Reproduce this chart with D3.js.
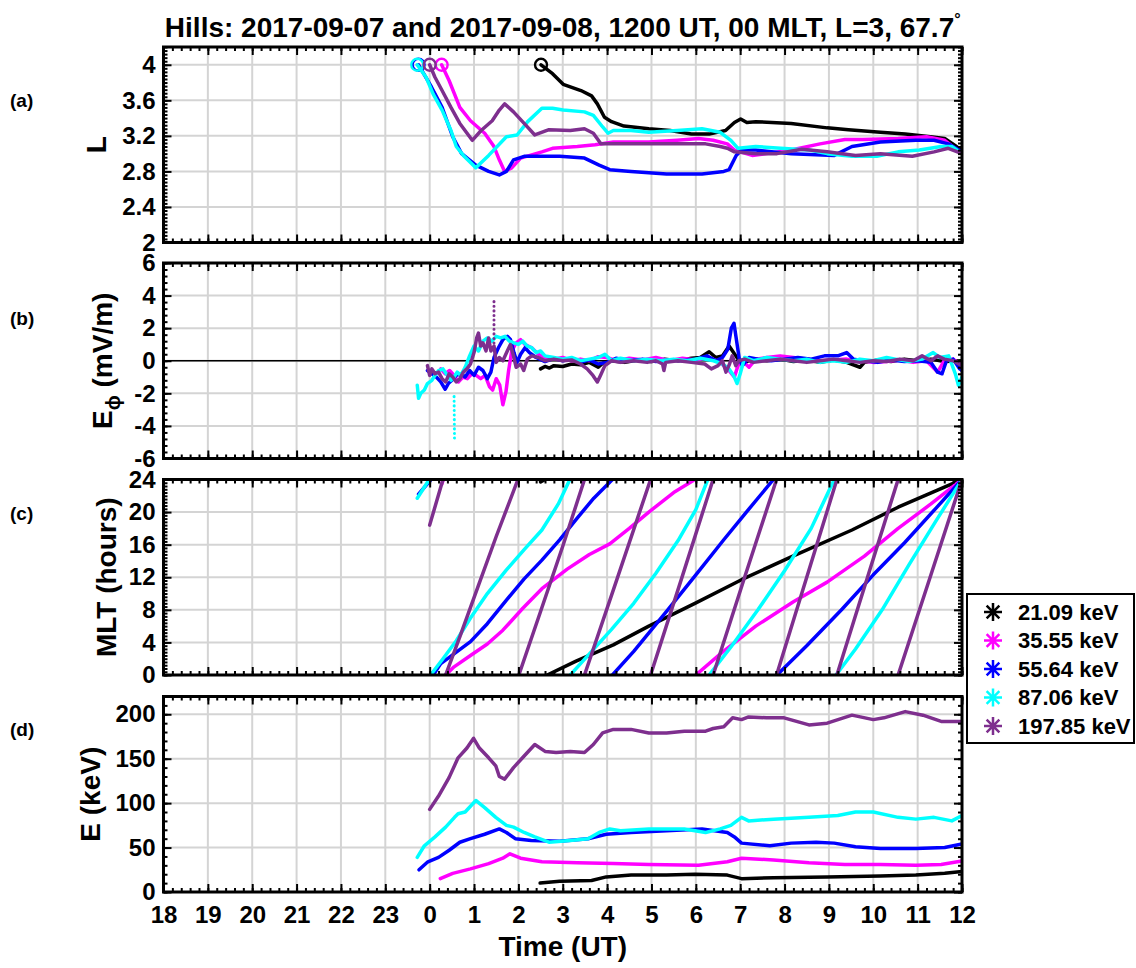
<!DOCTYPE html>
<meta charset="utf-8">
<html>

<head>
    <title>Hills drift paths</title>
    <style>
        body { margin: 0; background: #fff; }
        svg text { font-family: "Liberation Sans", Arial, sans-serif; font-weight: bold; fill: #000; }
    </style>
</head>

<body>
    <div id="container"></div>

    <script src="https://d3js.org/d3.v7.min.js"></script>

    <script>
        // time axis: hours relative to 2017-09-08 00 UT (negative = 2017-09-07)
        const hourTicks = d3.range(-6, 13);
        const hourLabels = ["18", "19", "20", "21", "22", "23", "0", "1", "2", "3", "4", "5", "6", "7", "8", "9", "10", "11", "12"];

        const energyLabels = ["21.09 keV", "35.55 keV", "55.64 keV", "87.06 keV", "197.85 keV"];
        const seriesColors = ["#000000", "#ff00ff", "#0000ff", "#00ffff", "#7e2f8e"];

        const lTicks = [2, 2.4, 2.8, 3.2, 3.6, 4];
        const ePhiTicks = [-6, -4, -2, 0, 2, 4, 6];
        const mltTicks = [0, 4, 8, 12, 16, 20, 24];
        const keVTicks = [0, 50, 100, 150, 200];

        // (a) L shell
        const lBlack = [[2.51, 4.0], [2.77, 3.9], [3.01, 3.78], [3.41, 3.71], [3.65, 3.65], [3.78, 3.56], [3.94, 3.41], [4.1, 3.36], [4.38, 3.31], [4.94, 3.28], [5.42, 3.26], [5.9, 3.22], [6.3, 3.22], [6.67, 3.26], [6.87, 3.35], [7.01, 3.39], [7.15, 3.35], [7.35, 3.36], [8.15, 3.34], [8.96, 3.29], [9.44, 3.27], [10.16, 3.24], [10.72, 3.22], [11.29, 3.19], [11.61, 3.17], [11.85, 3.09], [12, 3.03]];
        const lMagenta = [[0.27, 4.0], [0.44, 3.82], [0.68, 3.52], [0.92, 3.37], [1.24, 3.23], [1.45, 3.08], [1.57, 2.93], [1.69, 2.8], [1.85, 2.84], [2.05, 2.95], [2.53, 3.02], [2.77, 3.06], [3.33, 3.08], [3.73, 3.1], [4.14, 3.13], [4.94, 3.13], [5.58, 3.15], [6.06, 3.17], [6.39, 3.15], [6.71, 3.11], [6.87, 3.04], [7.27, 2.98], [7.59, 3.0], [8.15, 3.04], [8.8, 3.11], [9.36, 3.16], [9.76, 3.16], [10.56, 3.17], [11.2, 3.19], [11.61, 3.15], [12, 3.0]];
        const lBlue = [[-0.25, 4.0], [0.04, 3.75], [0.28, 3.52], [0.52, 3.19], [0.72, 3.0], [1.04, 2.87], [1.33, 2.8], [1.57, 2.76], [1.73, 2.8], [1.89, 2.93], [2.13, 2.97], [2.93, 2.97], [3.49, 2.95], [3.82, 2.87], [4.06, 2.82], [4.54, 2.8], [5.34, 2.77], [6.14, 2.77], [6.63, 2.8], [6.75, 2.82], [6.91, 2.98], [7.03, 3.04], [7.35, 3.04], [8.15, 3.0], [9.12, 2.98], [9.52, 3.08], [10.16, 3.13], [10.96, 3.15], [11.37, 3.15], [11.69, 3.11], [12, 3.02]];
        const lCyan = [[-0.28, 4.0], [-0.08, 3.86], [0.08, 3.67], [0.28, 3.49], [0.48, 3.26], [0.6, 3.08], [0.76, 2.98], [1.04, 2.84], [1.33, 2.98], [1.73, 3.19], [1.97, 3.21], [2.21, 3.36], [2.53, 3.51], [2.77, 3.51], [3.01, 3.49], [3.49, 3.47], [3.69, 3.43], [3.9, 3.3], [4.02, 3.23], [4.14, 3.26], [4.54, 3.26], [4.94, 3.24], [5.58, 3.26], [6.14, 3.28], [6.55, 3.24], [6.79, 3.15], [6.95, 3.06], [7.35, 3.08], [7.91, 3.06], [8.55, 3.04], [8.96, 3.0], [9.52, 2.97], [10.08, 2.97], [10.56, 3.02], [11.04, 3.04], [11.53, 3.08], [11.77, 3.08], [12, 3.0]];
        const lPurple = [[0, 4.0], [0.12, 3.86], [0.28, 3.71], [0.48, 3.52], [0.68, 3.34], [0.96, 3.15], [1.16, 3.26], [1.41, 3.37], [1.57, 3.49], [1.69, 3.56], [1.89, 3.47], [2.13, 3.34], [2.37, 3.21], [2.69, 3.27], [3.17, 3.26], [3.49, 3.28], [3.69, 3.23], [3.86, 3.11], [4.46, 3.11], [5.42, 3.11], [6.22, 3.11], [6.55, 3.08], [6.71, 3.06], [6.87, 3.02], [7.35, 3.0], [7.83, 3.0], [8.39, 3.05], [8.96, 3.02], [9.6, 2.98], [10.16, 3.0], [10.88, 2.97], [11.37, 3.02], [11.69, 3.06], [12, 3.0]];

        // (b) E_phi (mV/m)
        const ePhiBlack = [[2.5, -0.5], [2.6, -0.35], [2.7, -0.45], [2.8, -0.3], [3.0, -0.35], [3.2, -0.2], [3.4, -0.25], [3.6, -0.1], [3.8, -0.4], [3.9, -0.15], [4.1, 0.0], [4.4, -0.1], [4.7, 0.05], [5.0, -0.05], [5.3, 0.1], [5.6, 0.0], [5.9, 0.15], [6.1, 0.2], [6.3, 0.55], [6.45, 0.2], [6.6, 0.3], [6.75, 0.9], [6.85, 0.5], [6.95, 0.1], [7.1, -0.1], [7.3, 0.1], [7.6, 0.0], [7.9, 0.1], [8.2, -0.05], [8.5, 0.05], [8.8, -0.1], [9.1, 0.05], [9.4, -0.1], [9.7, -0.4], [9.8, -0.1], [10.1, 0.05], [10.4, -0.05], [10.7, 0.1], [11.0, 0.0], [11.3, 0.1], [11.6, -0.05], [12, 0.0]];
        const ePhiMagenta = [[0.25, -0.5], [0.35, -0.8], [0.45, -0.6], [0.55, -0.9], [0.65, -1.3], [0.75, -1.0], [0.85, -1.1], [0.95, -0.8], [1.05, -0.9], [1.15, -1.1], [1.25, -0.9], [1.35, -1.6], [1.42, -1.8], [1.5, -1.1], [1.58, -1.5], [1.65, -2.7], [1.72, -1.9], [1.78, -0.6], [1.85, 0.6], [1.95, 1.1], [2.05, 1.3], [2.15, 1.0], [2.3, 0.8], [2.45, 0.4], [2.6, 0.2], [2.8, 0.1], [3.0, 0.2], [3.2, 0.0], [3.4, 0.1], [3.6, 0.0], [3.8, 0.25], [4.0, 0.2], [4.2, 0.0], [4.5, 0.15], [4.8, 0.05], [5.1, 0.2], [5.4, 0.0], [5.7, 0.15], [6.0, 0.05], [6.3, 0.2], [6.55, -0.1], [6.75, -0.6], [6.87, -1.0], [6.95, -0.3], [7.05, 0.0], [7.2, -0.4], [7.35, 0.1], [7.6, 0.2], [7.9, 0.3], [8.2, 0.2], [8.5, 0.1], [8.8, 0.0], [9.1, 0.05], [9.4, 0.1], [9.7, 0.0], [10.0, -0.1], [10.3, -0.05], [10.6, 0.05], [10.9, -0.1], [11.2, 0.0], [11.45, -0.7], [11.6, 0.0], [11.8, 0.1], [12, -0.3]];
        const ePhiBlue = [[-0.05, -0.6], [0.05, -0.8], [0.15, -1.0], [0.25, -1.3], [0.35, -1.75], [0.42, -1.4], [0.5, -1.2], [0.6, -0.9], [0.7, -0.8], [0.8, -1.0], [0.9, -0.6], [1.0, -0.9], [1.1, -0.4], [1.2, -0.6], [1.3, -1.1], [1.38, -0.7], [1.45, 0.2], [1.55, 0.8], [1.65, 1.3], [1.75, 1.5], [1.82, 1.3], [1.9, 0.5], [1.97, -0.1], [2.05, 0.4], [2.15, 0.8], [2.25, 0.5], [2.4, 0.2], [2.6, -0.05], [2.8, 0.15], [3.0, 0.0], [3.2, 0.1], [3.4, -0.1], [3.6, 0.05], [3.8, -0.2], [4.0, -0.1], [4.2, 0.15], [4.5, 0.0], [4.8, 0.1], [5.1, -0.05], [5.4, 0.05], [5.7, 0.0], [6.0, 0.1], [6.25, 0.3], [6.45, 0.0], [6.6, 0.2], [6.72, 0.7], [6.8, 2.0], [6.86, 2.3], [6.92, 1.2], [6.98, 0.1], [7.05, -0.3], [7.2, 0.2], [7.4, 0.1], [7.7, 0.0], [8.0, 0.1], [8.3, 0.2], [8.6, 0.1], [8.9, 0.3], [9.2, 0.3], [9.4, 0.5], [9.55, 0.1], [9.8, 0.0], [10.1, -0.1], [10.4, 0.05], [10.7, -0.05], [11.0, 0.0], [11.3, -0.1], [11.45, -0.7], [11.55, -0.8], [11.65, 0.0], [11.8, 0.1], [11.95, -0.5], [12, -0.6]];
        const ePhiCyan = [[-0.28, -1.5], [-0.25, -2.3], [-0.2, -2.0], [-0.12, -1.8], [-0.05, -1.4], [0.05, -1.2], [0.12, -0.9], [0.2, -0.6], [0.3, -0.5], [0.4, -0.9], [0.48, -1.2], [0.55, -1.0], [0.62, -0.7], [0.7, -0.9], [0.8, -0.4], [0.9, 0.3], [1.0, 0.9], [1.1, 0.6], [1.2, 1.2], [1.3, 1.4], [1.4, 1.2], [1.5, 1.5], [1.6, 1.4], [1.7, 1.5], [1.8, 1.2], [1.9, 1.1], [2.0, 1.0], [2.1, 1.2], [2.2, 0.9], [2.3, 0.8], [2.4, 0.5], [2.5, 0.6], [2.6, 0.3], [2.8, 0.2], [3.0, 0.1], [3.2, 0.2], [3.4, 0.0], [3.6, 0.1], [3.8, 0.2], [3.95, 0.4], [4.1, 0.0], [4.3, 0.15], [4.6, 0.0], [4.9, 0.1], [5.2, 0.0], [5.5, 0.1], [5.8, 0.0], [6.1, 0.15], [6.4, 0.0], [6.6, -0.2], [6.75, -0.5], [6.85, -0.9], [6.93, -1.4], [7.0, -0.8], [7.1, 0.2], [7.3, 0.0], [7.6, 0.2], [7.9, 0.1], [8.2, 0.0], [8.5, 0.1], [8.8, -0.1], [9.1, 0.0], [9.4, -0.1], [9.7, 0.1], [10.0, 0.0], [10.3, 0.2], [10.5, 0.1], [10.8, -0.05], [11.1, 0.1], [11.35, 0.5], [11.5, 0.2], [11.7, 0.3], [11.85, -0.8], [11.92, -1.5], [12, -1.0]];
        const ePhiPurple = [[-0.05, -0.3], [0.0, -0.9], [0.05, -0.5], [0.12, -0.8], [0.2, -0.7], [0.28, -1.1], [0.36, -1.3], [0.44, -0.8], [0.52, -1.0], [0.6, -1.3], [0.68, -1.1], [0.76, -0.7], [0.84, -0.5], [0.92, -0.2], [1.0, 0.5], [1.06, 1.4], [1.1, 1.7], [1.15, 0.9], [1.2, 1.1], [1.27, 0.6], [1.33, 1.4], [1.38, 0.6], [1.45, 0.9], [1.5, -0.1], [1.57, 0.2], [1.65, 0.0], [1.75, 0.6], [1.82, 1.0], [1.88, 0.4], [1.95, -0.4], [2.05, -0.2], [2.12, -0.6], [2.2, 0.1], [2.3, 0.3], [2.45, 0.2], [2.6, 0.0], [2.8, 0.1], [3.0, 0.0], [3.2, 0.05], [3.4, -0.2], [3.55, -0.5], [3.68, -0.9], [3.78, -1.3], [3.85, -0.9], [3.95, -0.3], [4.1, 0.0], [4.3, -0.1], [4.6, 0.0], [4.9, -0.1], [5.1, 0.0], [5.25, -0.2], [5.28, -0.6], [5.32, -0.1], [5.6, 0.0], [5.9, -0.1], [6.2, -0.2], [6.35, -0.5], [6.5, -0.3], [6.6, 0.0], [6.68, -0.7], [6.76, -0.2], [6.82, 0.3], [6.9, -0.3], [6.97, 0.0], [7.1, 0.1], [7.3, -0.1], [7.6, 0.0], [7.9, 0.1], [8.2, 0.0], [8.5, -0.1], [8.8, 0.0], [9.1, 0.1], [9.4, 0.0], [9.7, -0.1], [10.0, 0.0], [10.3, -0.05], [10.6, 0.1], [10.9, 0.0], [11.1, 0.3], [11.3, 0.0], [11.45, 0.3], [11.6, 0.1], [11.8, 0.0], [12, -0.3]];
        // sparse dotted excursions
        const ePhiCyanSpike = [[0.55, -2.2], [0.56, -4.9]];
        const ePhiPurpleSpike = [[1.45, 0.8], [1.45, 3.7]];

        // (c) MLT, null marks a wrap from 24 back to 0
        const mltBlack = [[2.5, 23.7], [2.6, 24], null, [2.65, 0], [3.3, 1.7], [4.14, 3.7], [4.94, 6.0], [5.98, 8.8], [7.03, 11.7], [8.15, 14.5], [9.52, 17.8], [10.56, 20.6], [12, 24]];
        const mltMagenta = [[0.27, 23.4], [0.31, 24], null, [0.36, 0], [0.55, 1.0], [0.92, 2.4], [1.3, 3.8], [1.65, 5.5], [2.1, 8.2], [2.53, 10.6], [3.1, 13.0], [3.6, 14.8], [4.06, 16.1], [4.5, 18.0], [4.94, 20.0], [5.5, 22.4], [5.98, 24], null, [6.0, 0], [6.6, 2.8], [7.35, 6.0], [8.2, 9.0], [8.96, 11.4], [9.8, 14.6], [10.56, 18.0], [11.3, 21.0], [12, 24]];
        const mltBlue = [[-0.25, 22.2], [0.03, 24], null, [0.08, 0], [0.25, 1.4], [0.45, 2.2], [0.92, 4.1], [1.3, 6.3], [1.73, 9.2], [2.13, 11.8], [2.53, 14.1], [2.93, 16.6], [3.33, 19.3], [3.7, 21.7], [4.12, 24], null, [4.12, 0], [4.6, 2.9], [5.34, 7.8], [6.0, 12.3], [6.63, 16.6], [7.2, 20.4], [7.75, 24], null, [7.83, 0], [8.5, 3.6], [9.3, 8.1], [10.0, 12.3], [10.7, 16.2], [11.4, 20.4], [12, 24]];
        const mltCyan = [[-0.28, 21.7], [-0.01, 24], null, [0.02, 0], [0.3, 2.0], [0.6, 4.2], [0.92, 7.0], [1.3, 10.0], [1.73, 12.9], [2.13, 15.4], [2.53, 17.8], [2.9, 21.0], [3.16, 24], null, [3.17, 0], [3.6, 2.6], [4.1, 5.6], [4.6, 8.8], [5.1, 12.5], [5.6, 16.5], [6.0, 20.3], [6.27, 24], null, [6.3, 0], [6.8, 3.5], [7.4, 8.0], [8.0, 12.8], [8.6, 18.0], [9.12, 24], null, [9.16, 0], [9.6, 3.2], [10.2, 8.0], [10.8, 13.5], [11.4, 18.8], [12, 24]];
        const mltPurple = [[0, 18.4], [0.3, 24], null, [0.36, 0], [0.7, 5.0], [1.1, 11.0], [1.5, 17.0], [1.99, 24], null, [2.01, 0], [2.5, 7.8], [3.0, 15.8], [3.49, 24], null, [3.49, 0], [4.2, 11.4], [4.98, 24], null, [4.98, 0], [5.7, 12.2], [6.39, 24], null, [6.39, 0], [7.1, 12.0], [7.82, 24], null, [7.82, 0], [8.5, 12.0], [9.18, 24], null, [9.18, 0], [9.87, 12.0], [10.56, 24], null, [10.56, 0], [11.3, 12.3], [12, 24]];

        // (d) energy (keV)
        const keVBlack = [[2.49, 10], [2.93, 12], [3.65, 13], [3.98, 17], [4.54, 19], [5.34, 19], [5.98, 20], [6.71, 19], [7.03, 15], [7.75, 16], [8.96, 17], [10.16, 18], [10.96, 19], [11.61, 21], [12, 23]];
        const keVMagenta = [[0.24, 15], [0.52, 21], [0.92, 26], [1.33, 32], [1.65, 38], [1.81, 43], [2.05, 38], [2.53, 34], [3.33, 33], [4.14, 32], [4.94, 31], [6.06, 30], [6.71, 34], [7.03, 38], [7.75, 36], [8.55, 33], [9.36, 31], [10.16, 31], [10.96, 30], [11.53, 31], [12, 35]];
        const keVBlue = [[-0.24, 25], [-0.04, 34], [0.2, 39], [0.44, 47], [0.68, 56], [0.92, 60], [1.24, 65], [1.57, 71], [1.73, 67], [1.93, 60], [2.29, 58], [2.93, 57], [3.57, 60], [3.98, 65], [4.54, 67], [5.34, 69], [6.14, 71], [6.71, 67], [6.87, 62], [7.03, 55], [7.67, 52], [8.15, 55], [8.71, 56], [9.12, 55], [9.6, 51], [10.16, 49], [10.96, 49], [11.61, 50], [12, 54]];
        const keVCyan = [[-0.28, 39], [-0.12, 52], [0.12, 62], [0.36, 73], [0.56, 84], [0.64, 88], [0.8, 90], [1.04, 103], [1.24, 95], [1.49, 84], [1.73, 75], [1.89, 73], [2.13, 67], [2.37, 62], [2.69, 56], [3.17, 58], [3.57, 60], [3.82, 67], [4.06, 71], [4.3, 69], [4.94, 71], [5.74, 71], [6.22, 67], [6.55, 71], [6.79, 75], [7.03, 84], [7.19, 80], [7.75, 82], [8.55, 84], [9.2, 86], [9.6, 90], [10.0, 90], [10.56, 84], [10.96, 82], [11.37, 84], [11.77, 80], [12, 86]];
        const keVPurple = [[0, 93], [0.2, 108], [0.44, 129], [0.64, 151], [0.84, 162], [0.99, 173], [1.12, 162], [1.33, 151], [1.49, 142], [1.57, 130], [1.69, 127], [1.89, 140], [2.13, 153], [2.37, 166], [2.61, 158], [2.85, 157], [3.17, 158], [3.49, 157], [3.69, 166], [3.9, 179], [4.14, 183], [4.54, 183], [4.94, 179], [5.34, 179], [5.74, 181], [6.22, 181], [6.39, 184], [6.63, 186], [6.83, 196], [7.03, 194], [7.19, 197], [7.59, 196], [7.99, 196], [8.55, 188], [8.96, 190], [9.52, 199], [10.0, 194], [10.24, 196], [10.72, 203], [11.12, 199], [11.53, 192], [12, 192]];

        // ---- layout ----
        const width = 1136, height = 968;
        const plotLeft = 163.5, plotRight = 962, panelH = 195.5;
        const gridColor = "#d4d4d4";
        const tickFont = 24;

        const x = d3.scaleLinear().domain([-6, 12]).range([plotLeft, plotRight]);

        const panels = [
            { id: "a", top: 47, domain: [2, 4.2], ticks: lTicks, minor: d3.range(2, 4.2001, 0.04), series: [lBlack, lMagenta, lBlue, lCyan, lPurple], labelX: 106, tag: "(a)", tagY: 107 },
            { id: "b", top: 263, domain: [-6, 6], ticks: ePhiTicks, minor: d3.range(-6, 6.001, 0.4), series: [ePhiBlack, ePhiMagenta, ePhiBlue, ePhiCyan, ePhiPurple], labelX: 112, tag: "(b)", tagY: 325 },
            { id: "c", top: 479.5, domain: [0, 24], ticks: mltTicks, minor: d3.range(0, 24.001, 0.4), series: [mltBlack, mltMagenta, mltBlue, mltCyan, mltPurple], labelX: 116, tag: "(c)", tagY: 520 },
            { id: "d", top: 696.5, domain: [0, 220], ticks: keVTicks, minor: d3.range(0, 220.001, 10), series: [keVBlack, keVMagenta, keVBlue, keVCyan, keVPurple], labelX: 100, tag: "(d)", tagY: 736 }
        ];

        const svg = d3.select("#container").append("svg")
            .attr("width", width)
            .attr("height", height)
            .style("background", "#fff");

        function styleAxis(sel, fontSize) {
            sel.select(".domain").remove();
            sel.attr("font-family", null).attr("font-size", null);
            sel.selectAll(".tick line").attr("stroke", "#000").attr("stroke-width", 2);
            sel.selectAll(".tick text").style("font-size", fontSize + "px").attr("fill", "#000");
        }

        panels.forEach((p, pi) => {
            const bottom = p.top + panelH;
            const y = d3.scaleLinear().domain(p.domain).range([bottom, p.top]);
            const g = svg.append("g").attr("class", "panel-" + p.id);

            g.append("clipPath").attr("id", "clip-" + p.id)
                .append("rect")
                .attr("x", plotLeft).attr("y", p.top)
                .attr("width", plotRight - plotLeft).attr("height", panelH);

            // grid lines
            g.append("g").selectAll("line").data(hourTicks).join("line")
                .attr("x1", d => x(d)).attr("x2", d => x(d))
                .attr("y1", p.top).attr("y2", bottom)
                .attr("stroke", gridColor).attr("stroke-width", 2);
            g.append("g").selectAll("line").data(p.ticks).join("line")
                .attr("x1", plotLeft).attr("x2", plotRight)
                .attr("y1", d => y(d)).attr("y2", d => y(d))
                .attr("stroke", gridColor).attr("stroke-width", 2);

            const data = g.append("g").attr("clip-path", `url(#clip-${p.id})`);

            if (p.id === "b") {
                data.append("line")
                    .attr("x1", plotLeft).attr("x2", plotRight)
                    .attr("y1", y(0)).attr("y2", y(0))
                    .attr("stroke", "#000").attr("stroke-width", 1.5);
            }

            const line = d3.line()
                .defined(d => d !== null)
                .x(d => x(d[0]))
                .y(d => y(d[1]));

            p.series.forEach((s, i) => {
                data.append("path")
                    .attr("d", line(s))
                    .attr("fill", "none")
                    .attr("stroke", seriesColors[i])
                    .attr("stroke-width", 3.5)
                    .attr("stroke-linejoin", "round")
                    .attr("stroke-linecap", "round");

                if (p.id === "a") {
                    data.append("circle")
                        .attr("cx", x(s[0][0])).attr("cy", y(s[0][1]))
                        .attr("r", 6)
                        .attr("fill", "none")
                        .attr("stroke", seriesColors[i])
                        .attr("stroke-width", 2.4);
                }
                if (p.id === "b") {
                    const spike = i === 3 ? ePhiCyanSpike : i === 4 ? ePhiPurpleSpike : null;
                    if (spike) {
                        data.append("path")
                            .attr("d", line(spike))
                            .attr("fill", "none")
                            .attr("stroke", seriesColors[i])
                            .attr("stroke-width", 3)
                            .attr("stroke-linecap", "round")
                            .attr("stroke-dasharray", "0.1,4.5");
                    }
                }
            });

            // ticks (inward), major and minor on all four sides
            const axes = g.append("g");
            const left = axes.append("g").attr("transform", `translate(${plotLeft},0)`)
                .call(d3.axisLeft(y).tickValues(p.ticks).tickSize(-8).tickPadding(8).tickFormat(d => String(d)));
            styleAxis(left, tickFont);
            const leftMinor = axes.append("g").attr("transform", `translate(${plotLeft},0)`)
                .call(d3.axisLeft(y).tickValues(p.minor).tickSize(-4).tickFormat(() => ""));
            styleAxis(leftMinor, 10);
            const right = axes.append("g").attr("transform", `translate(${plotRight},0)`)
                .call(d3.axisRight(y).tickValues(p.ticks).tickSize(-8).tickFormat(() => ""));
            styleAxis(right, 10);
            const rightMinor = axes.append("g").attr("transform", `translate(${plotRight},0)`)
                .call(d3.axisRight(y).tickValues(p.minor).tickSize(-4).tickFormat(() => ""));
            styleAxis(rightMinor, 10);

            const xMinor = d3.range(-6, 12.001, 0.2);
            const top = axes.append("g").attr("transform", `translate(0,${p.top})`)
                .call(d3.axisTop(x).tickValues(hourTicks).tickSize(-8).tickFormat(() => ""));
            styleAxis(top, 10);
            const topMinor = axes.append("g").attr("transform", `translate(0,${p.top})`)
                .call(d3.axisTop(x).tickValues(xMinor).tickSize(-4).tickFormat(() => ""));
            styleAxis(topMinor, 10);
            const bot = axes.append("g").attr("transform", `translate(0,${bottom})`)
                .call(d3.axisBottom(x).tickValues(hourTicks).tickSize(-8).tickPadding(14)
                    .tickFormat((d, i) => pi === 3 ? hourLabels[i] : ""));
            styleAxis(bot, tickFont);
            const botMinor = axes.append("g").attr("transform", `translate(0,${bottom})`)
                .call(d3.axisBottom(x).tickValues(xMinor).tickSize(-4).tickFormat(() => ""));
            styleAxis(botMinor, 10);

            // frame
            g.append("rect")
                .attr("x", plotLeft).attr("y", p.top)
                .attr("width", plotRight - plotLeft).attr("height", panelH)
                .attr("fill", "none").attr("stroke", "#000").attr("stroke-width", 3);

            // y label
            const yl = g.append("text")
                .attr("transform", `translate(${p.labelX},${p.top + panelH / 2}) rotate(-90)`)
                .attr("text-anchor", "middle")
                .style("font-size", "28px");
            if (p.id === "a") yl.text("L");
            if (p.id === "b") {
                yl.append("tspan").text("E");
                yl.append("tspan").attr("dy", 8).style("font-size", "20px").text("\u03d5");
                yl.append("tspan").attr("dy", -8).text(" (mV/m)");
            }
            if (p.id === "c") yl.text("MLT (hours)");
            if (p.id === "d") yl.text("E (keV)");

            // panel tag
            svg.append("text")
                .attr("x", 10).attr("y", p.tagY)
                .style("font-size", "19px")
                .text(p.tag);
        });

        // x label
        svg.append("text")
            .attr("x", (plotLeft + plotRight) / 2).attr("y", 956)
            .attr("text-anchor", "middle")
            .style("font-size", "28px")
            .text("Time (UT)");

        // title
        const title = svg.append("text")
            .attr("x", (plotLeft + plotRight) / 2).attr("y", 37)
            .attr("text-anchor", "middle")
            .style("font-size", "28px");
        title.append("tspan").text("Hills: 2017-09-07 and 2017-09-08, 1200 UT, 00 MLT, L=3, 67.7");
        title.append("tspan").attr("dy", -12).style("font-size", "16px").text("\u00b0");

        // legend
        const legend = svg.append("g");
        legend.append("rect")
            .attr("x", 967).attr("y", 594).attr("width", 167).attr("height", 149)
            .attr("fill", "#fff").attr("stroke", "#000").attr("stroke-width", 2);
        const rowY = i => 612 + i * 28.5;
        const star = r => {
            const d = r * Math.SQRT1_2;
            return `M${-r},0H${r}M0,${-r}V${r}M${-d},${-d}L${d},${d}M${-d},${d}L${d},${-d}`;
        };
        energyLabels.forEach((lab, i) => {
            legend.append("path")
                .attr("transform", `translate(993,${rowY(i)})`)
                .attr("d", star(9))
                .attr("stroke", seriesColors[i])
                .attr("stroke-width", 2.5)
                .attr("fill", "none");
            legend.append("text")
                .attr("x", 1018).attr("y", rowY(i))
                .attr("dy", "0.36em")
                .style("font-size", "22px")
                .text(lab);
        });
    </script>
</body>

</html>
